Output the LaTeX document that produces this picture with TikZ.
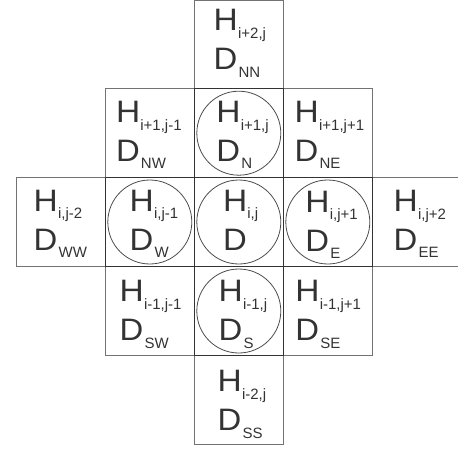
\documentclass[tikz,border=0pt]{standalone}
\usepackage{fontspec}
\setmainfont{Liberation Sans}
\newcommand{\bigH}{\scalebox{1.08}[1]{H}}
\newcommand{\bigD}{\scalebox{1.06}[1]{D}}
\newcommand{\subH}[1]{\kern0.2pt\raisebox{-7.7pt}{\fontsize{15}{15}\selectfont #1}}
\newcommand{\subD}[1]{\kern1.2pt\raisebox{-7.3pt}{\fontsize{15}{15}\selectfont #1}}
\begin{document}
\begin{tikzpicture}[x=1pt,y=-1pt,
  lbl/.style={anchor=base west, inner sep=0pt, outer sep=0pt, text=black!80, font=\fontsize{31}{31}\selectfont},
  outercell/.style={draw=black!55, line width=1pt},
  innercell/.style={draw=black!80, line width=1pt},
  ring/.style={draw=black!70, line width=0.8pt}]
\useasboundingbox (0,0) rectangle (458,450);
\clip (0,0) rectangle (458,450);
% outer cells
\draw[outercell] (194,0.5) rectangle (283,88.5);
\draw[outercell] (105,88.5) rectangle (194,177.5);
\draw[outercell] (283,88.5) rectangle (372,177.5);
\draw[outercell] (16,177.5) rectangle (105,266.5);
\draw[outercell] (372,177.5) rectangle (461,266.5);
\draw[outercell] (105,266.5) rectangle (194,355.5);
\draw[outercell] (283,266.5) rectangle (372,355.5);
\draw[outercell] (194,355.5) rectangle (283,444.5);
% inner cross
\draw[innercell] (194,88.5) rectangle (283,177.5);
\draw[innercell] (105,177.5) rectangle (194,266.5);
\draw[innercell] (194,177.5) rectangle (283,266.5);
\draw[innercell] (283,177.5) rectangle (372,266.5);
\draw[innercell] (194,266.5) rectangle (283,355.5);
% circles
\draw[ring] (238.8,133.2) circle[radius=42];
\draw[ring] (149.8,222) circle[radius=42];
\draw[ring] (238.8,222) circle[radius=42];
\draw[ring] (327.8,222) circle[radius=42];
\draw[ring] (238.8,311) circle[radius=42];
% labels
\node[lbl] (hNN) at (213.7,30.7) {\bigH\subH{i+2,j}};
\node[lbl] (dNN) at (213.7,69.7) {\bigD\subD{NN}};
\node[lbl] (hNW) at (116,122.3) {\bigH\subH{i+1,j-1}};
\node[lbl] (dNW) at (116,161.3) {\bigD\subD{NW}};
\node[lbl] (hN) at (216.4,122.3) {\bigH\subH{i+1,j}};
\node[lbl] (dN) at (216.4,161.3) {\bigD\subD{N}};
\node[lbl] (hNE) at (294.7,122.3) {\bigH\subH{i+1,j+1}};
\node[lbl] (dNE) at (294.7,161.3) {\bigD\subD{NE}};
\node[lbl] (hWW) at (33.7,211) {\bigH\subH{i,j-2}};
\node[lbl] (dWW) at (33.7,250) {\bigD\subD{WW}};
\node[lbl] (hW) at (129.7,211) {\bigH\subH{i,j-1}};
\node[lbl] (dW) at (129.7,250) {\bigD\subD{W}};
\node[lbl] (hC) at (223,211) {\bigH\subH{i,j}};
\node[lbl] (dC) at (223,250) {\bigD};
\node[lbl] (hE) at (305.4,212) {\bigH\subH{i,j+1}};
\node[lbl] (dE) at (305.4,251) {\bigD\subD{E}};
\node[lbl] (hEE) at (393.7,211.5) {\bigH\subH{i,j+2}};
\node[lbl] (dEE) at (393.7,250.5) {\bigD\subD{EE}};
\node[lbl] (hSW) at (119.7,301.7) {\bigH\subH{i-1,j-1}};
\node[lbl] (dSW) at (119.7,340.7) {\bigD\subD{SW}};
\node[lbl] (hS) at (218.7,301.7) {\bigH\subH{i-1,j}};
\node[lbl] (dS) at (218.7,340.7) {\bigD\subD{S}};
\node[lbl] (hSE) at (295.4,301.7) {\bigH\subH{i-1,j+1}};
\node[lbl] (dSE) at (295.4,340.7) {\bigD\subD{SE}};
\node[lbl] (hSS) at (217.7,391.7) {\bigH\subH{i-2,j}};
\node[lbl] (dSS) at (217.7,430.7) {\bigD\subD{SS}};
\end{tikzpicture}
\end{document}
